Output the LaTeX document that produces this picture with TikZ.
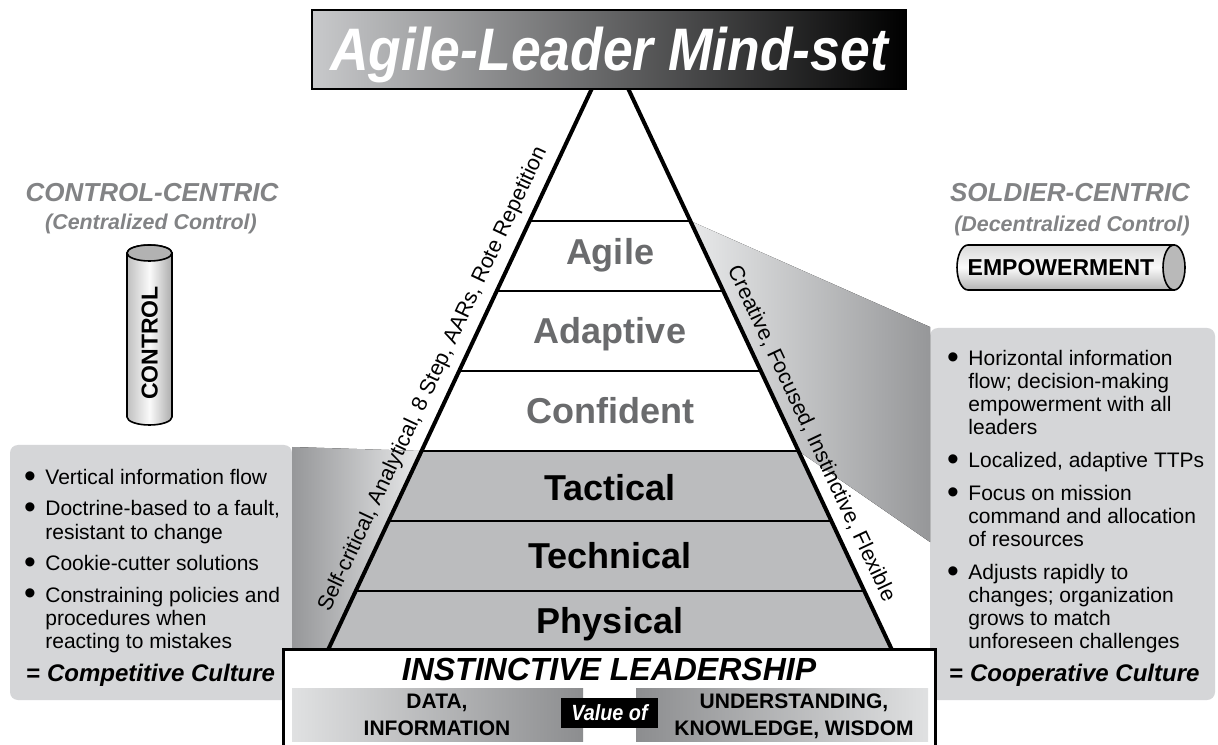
\documentclass[tikz,border=0pt]{standalone}
\usepackage{fontspec}
\setmainfont{Liberation Sans}
\usepackage{graphicx}
\usetikzlibrary{positioning,calc}

\definecolor{boxgray}{RGB}{213,214,216}
\definecolor{layerfill}{RGB}{187,188,190}
\definecolor{labelgray}{RGB}{106,107,109}
\definecolor{headgray}{RGB}{130,131,133}
\definecolor{titlelight}{RGB}{200,201,203}
\definecolor{shadedark}{RGB}{150,151,153}
\definecolor{shadelight}{RGB}{232,233,234}
\definecolor{barlight}{RGB}{224,225,226}
\definecolor{bardark}{RGB}{140,141,143}

% larger bullet for the box lists
\newcommand{\blt}{\makebox[3.7pt][c]{\raisebox{-1.3pt}{\scalebox{1.6}{\textbullet}}}}

\begin{document}
\begin{tikzpicture}[
    x=0.5pt, y=0.5pt,
    layer/.style={font=\bfseries\fontsize{18pt}{18pt}\selectfont, text height=12.9pt, text depth=0pt, inner sep=0pt},
    heading/.style={font=\bfseries\itshape\fontsize{13pt}{13pt}\selectfont, text=headgray, inner sep=0pt, anchor=base},
    subheading/.style={font=\bfseries\itshape\fontsize{10.7pt}{10.7pt}\selectfont, text=headgray, inner sep=0pt, anchor=base},
    infobox/.style={fill=boxgray, rounded corners=4pt},
    infotext/.style={inner sep=0pt, anchor=base west},
    edgetext/.style={font=\fontsize{10.75pt}{10.75pt}\selectfont, sloped, above, inner sep=4pt},
    barlabel/.style={font=\bfseries\fontsize{10.5pt}{10.5pt}\selectfont, inner sep=0pt, anchor=base},
    pipetext/.style={font=\bfseries\fontsize{11.5pt}{11.5pt}\selectfont, inner sep=0pt, text height=8.2pt, text depth=0pt},
    edge/.style={line width=2pt},
    divider/.style={line width=1.2pt}
]

\fill[white] (0,0) rectangle (1218,744);
\useasboundingbox (0,0) rectangle (1218,744);

% Side boxes
\fill[infobox] (10,44) rectangle (292,299);
\fill[infobox] (930,44) rectangle (1215,416);

% Shaded links from the boxes to the pyramid
\fill[left color=shadedark, right color=shadelight] (292,297) -- (421.5,293) -- (321.4,80) -- (292,80) -- cycle;
\fill[left color=shadelight, right color=shadedark] (690.4,523) -- (930,417) -- (930,202) -- (798.5,293) -- cycle;

% Pyramid
\coordinate (apex) at (610,694);
\coordinate (bl) at (328,94);
\coordinate (br) at (892,94);
\fill[white] (apex) -- (bl) -- (br) -- cycle;
\fill[layerfill] (421.5,293) -- (798.5,293) -- (br) -- (bl) -- cycle;

\draw[divider] (529.6,523) -- (690.4,523);
\draw[divider] (496.7,453) -- (723.3,453);
\draw[divider] (459.1,373) -- (760.9,373);
\draw[divider] (421.5,293) -- (798.5,293);
\draw[divider] (388.6,223) -- (831.4,223);
\draw[divider] (355.7,153) -- (864.3,153);

\draw[edge] (bl) -- node[edgetext, pos=0.437] {Self-critical, Analytical, 8 Step, AARs, Rote Repetition} (apex);
\draw[edge] (apex) -- node[edgetext, pos=0.653] {Creative, Focused, Instinctive, Flexible} (br);

% Layer labels
\node[layer, text=labelgray] (agile) at (610,492) {Agile};
\node[layer, text=labelgray] (adaptive) at (610,413) {Adaptive};
\node[layer, text=labelgray] (confident) at (610,333) {Confident};
\node[layer] (tactical) at (610,256) {Tactical};
\node[layer] (technical) at (610,188) {Technical};
\node[layer] (physical) at (610,123.5) {Physical};

% Title
\node[draw, line width=1pt, left color=titlelight, right color=black, minimum width=297pt, minimum height=39.5pt, inner sep=0pt, text=white, font=\bfseries\itshape\fontsize{30pt}{30pt}\selectfont, text height=21.5pt, text depth=0pt] (title) at (609,694.5) {\scalebox{0.89}[1]{Agile-Leader Mind-set}};

% Control-centric side
\node[heading] (ctrlhead) at (152,542) {CONTROL-CENTRIC};
\node[subheading] (ctrlsub) at (151,514) {(Centralized Control)};
\path[draw, line width=0.8pt, left color=gray!50, right color=gray!65, middle color=gray!4] (127,491) -- (127,327) arc[start angle=180, end angle=360, x radius=22.5, y radius=8] -- (172,491) arc[start angle=0, end angle=180, x radius=22.5, y radius=8] -- cycle;
\filldraw[fill=gray!60, line width=0.8pt] (149.5,491) ellipse [x radius=22.5, y radius=8];
\node[pipetext, rotate=90] (control) at (149.5,401) {CONTROL};

% Soldier-centric side
\node[heading] (soldhead) at (1070,542) {SOLDIER-CENTRIC};
\node[subheading] (soldsub) at (1072,512) {(Decentralized Control)};
\path[draw, line width=0.8pt, top color=gray!30, bottom color=gray!60, middle color=gray!4] (1174,499) -- (968,499) arc[start angle=90, end angle=270, x radius=11, y radius=22.5] -- (1174,454) -- cycle;
\filldraw[fill=gray!55, line width=0.8pt] (1174,476.5) ellipse [x radius=11, y radius=22.5];
\node[pipetext] (empower) at (1061,476.5) {EMPOWERMENT};

% Box texts
\node[infotext] (ctrltext) at (26,259.5) {\fontsize{10.5pt}{11.7pt}\selectfont
\begin{tabular}[t]{@{}l@{\hspace{5.8pt}}p{125pt}@{}}
\blt & Vertical information flow\\[4pt]
\blt & Doctrine-based to a fault,\newline resistant to change\\[4pt]
\blt & Cookie-cutter solutions\\[4pt]
\blt & Constraining policies and\newline procedures when\newline reacting to mistakes\\[4pt]
\multicolumn{2}{@{}l@{}}{\fontsize{12pt}{12pt}\selectfont\bfseries = \itshape Competitive Culture}
\end{tabular}};

\node[infotext] (soldtext) at (949,378.5) {\fontsize{10.5pt}{11.5pt}\selectfont
\begin{tabular}[t]{@{}l@{\hspace{5.8pt}}p{125pt}@{}}
\blt & Horizontal information\newline flow; decision-making\newline empowerment with all\newline leaders\\[5pt]
\blt & Localized, adaptive TTPs\\[5pt]
\blt & Focus on mission\newline command and allocation\newline of resources\\[5pt]
\blt & Adjusts rapidly to\newline changes; organization\newline grows to match\newline unforeseen challenges\\[4.5pt]
\multicolumn{2}{@{}l@{}}{\fontsize{12pt}{12pt}\selectfont\bfseries = \itshape Cooperative Culture}
\end{tabular}};

% Instinctive leadership base
\draw[line width=1.5pt, fill=white] (283,-4) -- (283,95) -- (935,95) -- (935,-4);
\node[font=\bfseries\itshape\fontsize{16pt}{16pt}\selectfont, anchor=base, inner sep=0pt] (instinct) at (609,64) {INSTINCTIVE LEADERSHIP};
\fill[left color=barlight, right color=bardark] (292,3) rectangle (583,56);
\fill[left color=bardark, right color=barlight] (636,3) rectangle (928,56);
\node[fill=black, text=white, minimum width=48.5pt, minimum height=15pt, inner sep=0pt, font=\bfseries\itshape\fontsize{11pt}{11pt}\selectfont, text height=7.9pt, text depth=0pt] (valueof) at (609.5,31) {\scalebox{0.9}[1]{Value of}};
\node[barlabel] (data) at (437,36) {DATA,};
\node[barlabel] (info) at (437,9) {INFORMATION};
\node[barlabel] (underst) at (794,36) {UNDERSTANDING,};
\node[barlabel] (knowl) at (794,9) {KNOWLEDGE, WISDOM};

\end{tikzpicture}
\end{document}
